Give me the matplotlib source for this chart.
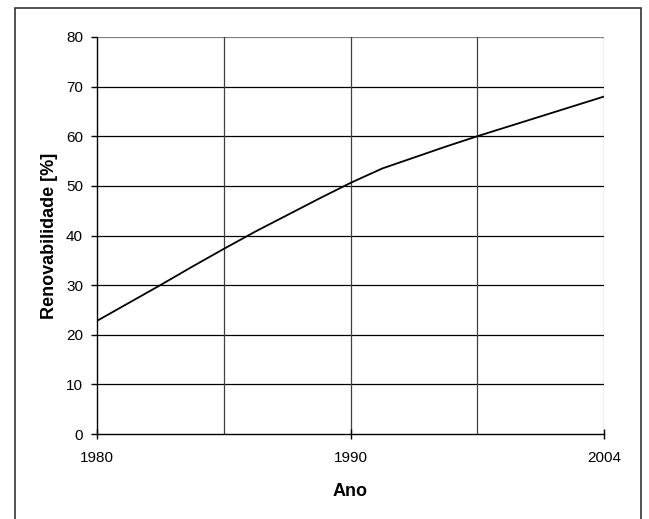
import numpy as np
import matplotlib
matplotlib.use('Agg')
import matplotlib.pyplot as plt
from matplotlib.patches import Rectangle

plt.rcParams['font.family'] = ['Liberation Sans', 'DejaVu Sans']

# data (category axis, labels shown only at 1980, 1990, 2004)
categories = ['1980', '', '', '', '', '', '', '', '1990',
              '', '', '', '', '', '', '', '2004']
renovabilidade = [22.8, 26.4, 30.0, 33.7, 37.3, 40.8, 44.1, 47.4, 50.6,
                  53.5, 55.7, 57.9, 60.0, 62.0, 64.0, 66.0, 68.0]
y_ticks = [0, 10, 20, 30, 40, 50, 60, 70, 80]

x = np.arange(len(categories))

fig = plt.figure(figsize=(6.49, 5.19), dpi=100)
ax = fig.add_axes([97/649, 85/519, 507/649, 397/519])

# outer frame around the chart
fig.patches.append(Rectangle((15/649, -0.05), 626/649, 1.05 - 8/519,
                             transform=fig.transFigure, fill=False,
                             edgecolor='#333333', lw=1.2))

# gridlines
for yv in y_ticks[1:]:
    ax.axhline(yv, color='#000000' if yv < 80 else '#808080', lw=0.9, zorder=1)
for xv in x[4::4]:
    ax.axvline(xv, color='#404040' if xv < x[-1] else '#808080', lw=0.9, zorder=1)

ax.plot(x, renovabilidade, color='black', lw=1.3, zorder=3)

ax.set_xlim(x[0], x[-1])
ax.set_ylim(0, 80)
ax.set_yticks(y_ticks)
ax.set_xticks(x[::8])
ax.set_xticklabels([c for c in categories if c])

for s in ['top', 'right']:
    ax.spines[s].set_visible(False)
for s in ['left', 'bottom']:
    ax.spines[s].set_color('black')
    ax.spines[s].set_linewidth(1.0)

ax.tick_params(axis='y', direction='out', length=4, width=1, pad=6, labelsize=11)
ax.tick_params(axis='x', direction='inout', length=7, width=1, pad=9, labelsize=11)

ax.set_xlabel('Ano', fontsize=13, fontweight='bold', labelpad=13)
ax.set_ylabel('Renovabilidade [%]', fontsize=13, fontweight='bold', labelpad=5.5)

plt.savefig('out.png', dpi=100)
